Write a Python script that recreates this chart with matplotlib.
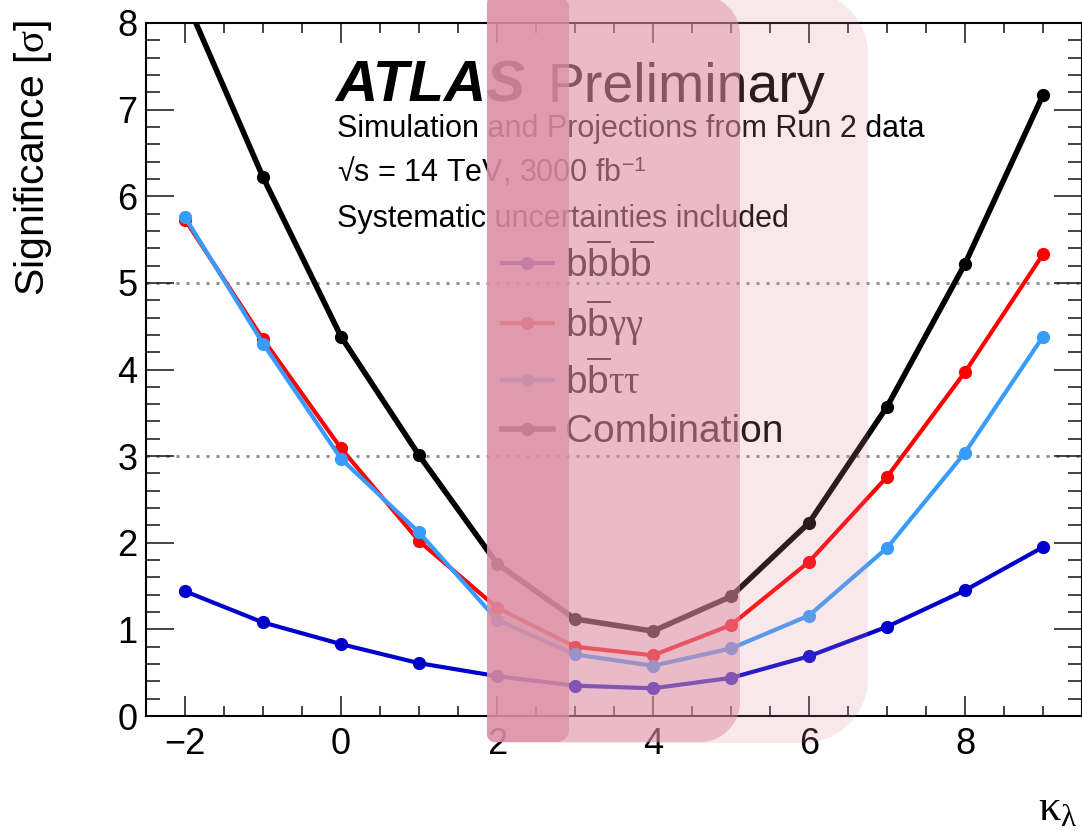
import matplotlib
matplotlib.use("Agg")
import matplotlib.pyplot as plt
from matplotlib.path import Path
from matplotlib.patches import PathPatch
from matplotlib.transforms import IdentityTransform
from matplotlib.ticker import MultipleLocator

plt.rcParams['font.family'] = ['Liberation Sans', 'DejaVu Sans']
plt.rcParams['mathtext.fontset'] = 'custom'
plt.rcParams['mathtext.rm'] = 'Liberation Serif'
plt.rcParams['mathtext.it'] = 'Liberation Serif:italic'
plt.rcParams['mathtext.sf'] = 'Liberation Sans'
plt.rcParams['mathtext.bf'] = 'Liberation Sans:bold'
plt.rcParams['axes.unicode_minus'] = True

# kappa_lambda scan points and expected significances
kappa = [-2, -1, 0, 1, 2, 3, 4, 5, 6, 7, 8, 9]
sig_bbbb = [1.44, 1.08, 0.83, 0.61, 0.46, 0.35, 0.32, 0.44, 0.69, 1.03, 1.45, 1.95]
sig_bbyy = [5.73, 4.35, 3.09, 2.02, 1.25, 0.80, 0.70, 1.05, 1.78, 2.76, 3.97, 5.33]
sig_bbtt = [5.76, 4.30, 2.97, 2.12, 1.11, 0.71, 0.58, 0.78, 1.16, 1.94, 3.04, 4.38]
sig_comb = [8.29, 6.22, 4.38, 3.01, 1.76, 1.12, 0.98, 1.38, 2.23, 3.57, 5.22, 7.17]

labels = [r'$\mathsf{b}\overline{\mathsf{b}}\mathsf{b}\overline{\mathsf{b}}$',
          r'$\mathsf{b}\overline{\mathsf{b}}\mathrm{\gamma\gamma}$',
          r'$\mathsf{b}\overline{\mathsf{b}}\mathrm{\tau\tau}$',
          'Combination']
reference_levels = [3, 5]

W, H = 1082, 831
fig = plt.figure(figsize=(W / 100, H / 100), dpi=100)
ax = fig.add_axes([146 / W, 1 - 716 / H, (W - 146) / W, (716 - 23) / H])

for lev in reference_levels:
    ax.axhline(lev, color='#8a8a8a', lw=2.0, ls=(0, (1.1, 2.5)), zorder=1)

series = [
    (sig_bbbb, '#0000CC', 3.0, labels[0]),
    (sig_bbyy, '#FF0000', 3.0, labels[1]),
    (sig_bbtt, '#3A9BFF', 3.0, labels[2]),
    (sig_comb, '#000000', 4.0, labels[3]),
]
handles = []
for vals, col, lw, lab in series:
    h, = ax.plot(kappa, vals, color=col, lw=lw, marker='o', ms=8.5,
                 solid_joinstyle='round', label=lab, zorder=3)
    handles.append(h)

ax.set_xlim(-2.5, 9.5)
ax.set_ylim(0, 8)
ax.xaxis.set_major_locator(MultipleLocator(2))
ax.xaxis.set_minor_locator(MultipleLocator(0.5))
ax.yaxis.set_major_locator(MultipleLocator(1))
ax.yaxis.set_minor_locator(MultipleLocator(0.2))
ax.tick_params(axis='both', which='both', direction='in', top=True, right=True,
               width=1.1, color='#111111')
ax.tick_params(axis='x', which='major', length=14.5, labelsize=26, pad=8)
ax.tick_params(axis='x', which='minor', length=7.2)
ax.tick_params(axis='y', which='major', length=20, labelsize=26, pad=6)
ax.tick_params(axis='y', which='minor', length=10)
for sp in ax.spines.values():
    sp.set_linewidth(1.5)

ax.legend(handles=handles, loc='upper left', frameon=False, fontsize=28,
          bbox_to_anchor=(502 / W, 1 - 243 / H), bbox_transform=fig.transFigure,
          borderpad=0, borderaxespad=0, handlelength=1.3, handletextpad=0.33,
          labelspacing=0.32, numpoints=1)

fig.text(335 / W, 1 - 102 / H, 'ATLAS', fontsize=42, fontweight='bold',
         fontstyle='italic', va='baseline', ha='left')
fig.text(547 / W, 1 - 102 / H, 'Preliminary', fontsize=40, va='baseline', ha='left')
fig.text(337 / W, 1 - 137 / H, 'Simulation and Projections from Run 2 data',
         fontsize=22, va='baseline', ha='left')
fig.text(337 / W, 1 - 182 / H, '\u221As = 14 TeV, 3000 fb$^{\\mathsf{-1}}$',
         fontsize=22, va='baseline', ha='left')
fig.text(337 / W, 1 - 227 / H, 'Systematic uncertainties included',
         fontsize=22, va='baseline', ha='left')

fig.text(33 / W, 1 - 20 / H, r'Significance [$\mathrm{\sigma}$]', rotation=90,
         ha='center', va='top', fontsize=29.5)
fig.text(1078 / W, 2 / H, r'$\mathrm{\kappa_{\lambda}}$', ha='right', va='bottom',
         fontsize=32)


def rounded_box(x0, y0, x1, y1, rl, rr):
    k = 0.5523
    verts = [(x0 + rl, y0), (x1 - rr, y0),
             (x1 - rr + k * rr, y0), (x1, y0 + rr - k * rr), (x1, y0 + rr),
             (x1, y1 - rr),
             (x1, y1 - rr + k * rr), (x1 - rr + k * rr, y1), (x1 - rr, y1),
             (x0 + rl, y1),
             (x0 + rl - k * rl, y1), (x0, y1 - rl + k * rl), (x0, y1 - rl),
             (x0, y0 + rl),
             (x0, y0 + rl - k * rl), (x0 + rl - k * rl, y0), (x0 + rl, y0),
             (x0 + rl, y0)]
    codes = ([Path.MOVETO, Path.LINETO] + [Path.CURVE4] * 3 + [Path.LINETO]
             + [Path.CURVE4] * 3 + [Path.LINETO] + [Path.CURVE4] * 3
             + [Path.LINETO] + [Path.CURVE4] * 3 + [Path.CLOSEPOLY])
    return Path(verts, codes)


# translucent highlight bands (pixel geometry, y measured from the top)
bands = [
    (487, 868, -10, 743, 8, 65, 0.20),
    (487, 740, -5, 742, 8, 40, 0.50),
    (487, 569, -4, 742, 8, 12, 0.72),
]
for x0, x1, top, bot, rl, rr, alpha in bands:
    p = rounded_box(x0, H - bot, x1, H - top, rl, rr)
    fig.add_artist(PathPatch(p, facecolor='#DC8EA4', edgecolor='none', alpha=alpha,
                             transform=IdentityTransform(), zorder=10))

fig.savefig('out.png', dpi=100)
